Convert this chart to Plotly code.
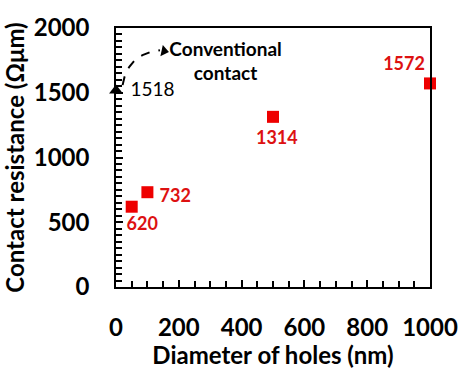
import numpy as np
import plotly.graph_objects as go

# Hole-contact devices: hole diameter (nm) vs. contact resistance (Ω·µm)
hole_diameter = [50, 100, 500, 1000]
hole_resistance = [620, 732, 1314, 1572]

# Conventional contact reference (no holes)
conv_diameter = [0]
conv_resistance = [1518]

FONT = "Lato, 'Open Sans', sans-serif"
RED = "#ee0000"
LABEL_RED = "#dd1111"

# axis ranges and plot size in pixels, used to turn pixel label offsets into data units
X_RANGE, Y_RANGE = [0, 1000], [0, 2000]
PLOT_W, PLOT_H = 327, 272
px_x = (X_RANGE[1] - X_RANGE[0]) / PLOT_W
px_y = (Y_RANGE[1] - Y_RANGE[0]) / PLOT_H

fig = go.Figure()

fig.add_trace(go.Scatter(
    x=hole_diameter, y=hole_resistance, mode="markers",
    marker=dict(symbol="square", size=12, color=RED),
    cliponaxis=False, showlegend=False, hoverinfo="skip",
))
fig.add_trace(go.Scatter(
    x=conv_diameter, y=conv_resistance, mode="markers",
    marker=dict(symbol="triangle-up", size=12, color="black"),
    cliponaxis=False, showlegend=False, hoverinfo="skip",
))

# dashed curved pointer (quadratic Bezier) from the triangle to the caption
p0, p1, p2 = np.array([21, 1559]), np.array([37, 1801]), np.array([140, 1828])
t = np.linspace(0, 1, 30)[:, None]
curve = (1 - t) ** 2 * p0 + 2 * (1 - t) * t * p1 + t ** 2 * p2
fig.add_trace(go.Scatter(
    x=curve[:, 0], y=curve[:, 1], mode="lines",
    line=dict(color="black", width=2, dash="dash"),
    showlegend=False, hoverinfo="skip",
))
fig.add_trace(go.Scatter(
    x=[153], y=[1822], mode="markers",
    marker=dict(symbol="triangle-right", size=10, angle=12, color="black"),
    showlegend=False, hoverinfo="skip",
))

# value labels, offset from each marker by a few pixels
offsets = [(11, -20), (29, -6), (4, -24), (-27, 19)]
fig.add_trace(go.Scatter(
    x=[x + dx * px_x for x, (dx, _) in zip(hole_diameter, offsets)],
    y=[y + dy * px_y for y, (_, dy) in zip(hole_resistance, offsets)],
    text=[str(v) for v in hole_resistance],
    mode="text", textposition="middle center",
    textfont=dict(family=FONT, size=18, color=LABEL_RED, weight="bold"),
    cliponaxis=False, showlegend=False, hoverinfo="skip",
))
fig.add_trace(go.Scatter(
    x=[conv_diameter[0] + 38 * px_x], y=[conv_resistance[0] - 1 * px_y],
    text=[str(conv_resistance[0])],
    mode="text", textposition="middle center",
    textfont=dict(family=FONT, size=19, color="black"),
    cliponaxis=False, showlegend=False, hoverinfo="skip",
))
fig.add_trace(go.Scatter(
    x=[349], y=[1728], text=["Conventional<br>contact"],
    mode="text", textposition="middle center",
    textfont=dict(family=FONT, size=19, color="black", weight="bold"),
    cliponaxis=False, showlegend=False, hoverinfo="skip",
))

axis_common = dict(
    showline=True, linecolor="black", linewidth=1.5, mirror=True,
    ticks="inside", tickcolor="black", tickwidth=1.5, ticklen=7,
    showgrid=False, zeroline=False,
    tickfont=dict(family=FONT, size=24, color="black", weight="bold"),
)
minor_ticks = dict(ticks="inside", dtick=50, ticklen=6,
                   tickcolor="black", tickwidth=1.5, showgrid=False)

fig.update_xaxes(
    range=X_RANGE, tick0=0, dtick=200, minor=minor_ticks,
    ticklabelstandoff=18, ticklabeloverflow="allow",
    title=dict(text="<b>Diameter of holes (nm)</b>", standoff=0,
               font=dict(family=FONT, size=24, color="black")),
    **axis_common,
)
fig.update_yaxes(
    range=Y_RANGE, tick0=0, dtick=500, minor=minor_ticks,
    ticklabelstandoff=20,
    title=dict(text="<b>Contact resistance (Ωμm)</b>", standoff=2,
               font=dict(family=FONT, size=24, color="black")),
    **axis_common,
)

fig.update_layout(
    width=470, height=369,
    margin=dict(l=116, r=27, t=23, b=74),
    plot_bgcolor="white", paper_bgcolor="white",
)

fig.write_html("out.html")
